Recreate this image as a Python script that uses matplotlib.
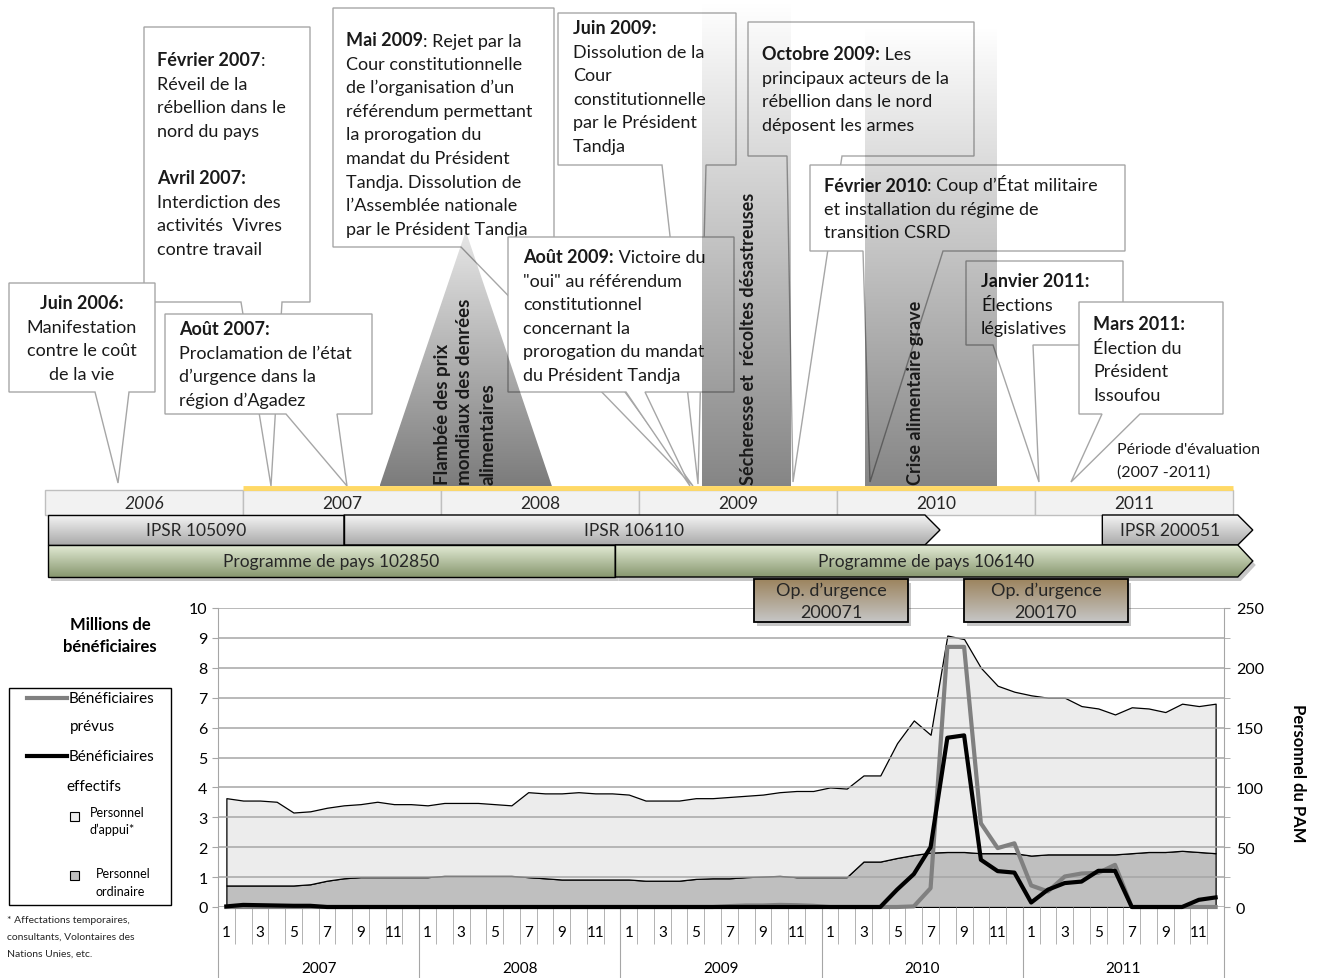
import numpy as np
import matplotlib
matplotlib.use("Agg")
import matplotlib.pyplot as plt
from matplotlib.patches import Polygon, Rectangle
from matplotlib.colors import to_rgba

plt.rcParams['font.family'] = ['Lato', 'DejaVu Sans']

W, H = 1320, 979

# ---- séries mensuelles, janv. 2007 - déc. 2011 ----
annees = ['2007', '2008', '2009', '2010', '2011']
mois_labels = ['1', '', '3', '', '5', '', '7', '', '9', '', '11', '']

# millions de bénéficiaires (axe de gauche)
benef_prevus = [
    0, 0, 0, 0, 0, 0, 0, 0, 0, 0, 0, 0,
    0, 0, 0, 0, 0, 0, 0, 0, 0, 0, 0, 0,
    0, 0, 0, 0, 0, 0, 0.03, 0.05, 0.05, 0.07, 0.06, 0.04,
    0, 0, 0, 0, 0, 0.02, 0.63, 8.7, 8.7, 2.8, 1.97, 2.13,
    0.72, 0.52, 1.02, 1.12, 1.14, 1.41, 0, 0, 0, 0, 0, 0]
benef_effectifs = [
    0.02, 0.07, 0.06, 0.05, 0.04, 0.04, 0, 0, 0, 0, 0, 0,
    0, 0, 0, 0, 0, 0, 0, 0, 0, 0, 0, 0,
    0, 0, 0, 0, 0, 0, 0, 0, 0, 0, 0, 0,
    0, 0, 0, 0, 0.58, 1.1, 2.0, 5.66, 5.74, 1.58, 1.2, 1.15,
    0.15, 0.58, 0.8, 0.85, 1.21, 1.21, 0, 0, 0, 0, 0.24, 0.32]

# personnel du PAM (axe de droite)
personnel_ordinaire = [
    18, 18, 18, 18, 18, 19, 22, 24, 25, 25, 25, 25,
    25, 26, 26, 26, 26, 26, 25, 24, 23, 23, 23, 23,
    23, 22, 22, 22, 23.5, 24, 24, 25, 25.5, 26, 25, 25,
    25, 25, 38, 38, 41, 43.5, 45.5, 46, 46, 45, 45, 45,
    43, 44, 44, 44, 44, 44, 45, 46, 46, 47, 46, 45]
personnel_appui = [
    73, 71, 71, 70, 61, 61, 61, 61, 61, 63, 61, 61,
    60, 61, 61, 61, 60, 59, 71, 71, 72, 73, 72, 72,
    71, 67, 67, 67, 67.5, 67, 68, 68, 68.5, 70, 72, 72,
    75, 74, 72, 72, 96, 112.5, 98.5, 181, 178, 155, 140, 135,
    134, 131, 131, 124, 122, 117, 122, 120, 117, 123, 122, 125]

# ---- frise chronologique ----
frise_annees = ['2006', '2007', '2008', '2009', '2010', '2011']
periode_eval = (2007.0, 2012.0)
ipsr = [('IPSR 105090', 2006.015, 2007.51, False),
        ('IPSR 106110', 2007.51, 2010.52, True),
        ('IPSR 200051', 2011.34, 2012.1, True)]
programmes = [('Programme de pays 102850', 2006.015, 2008.88, False),
              ('Programme de pays 106140', 2008.88, 2012.1, True)]
urgences = [('Op. d’urgence', '200071', 2009.58, 2010.36),
            ('Op. d’urgence', '200170', 2010.64, 2011.47)]
crises = [('Flambée des prix\nmondiaux des denrées\nalimentaires', 2007.69, 2008.56),
          ('Sécheresse et  récoltes désastreuses', 2009.32, 2009.77),
          ('Crise alimentaire grave', 2010.14, 2010.81)]

B_, N_ = True, False
evenements = [
    dict(box=(144, 28, 310, 303), tail=(241, 282, 271, 487), x=157, y=61, ha='left',
         lines=[[('Février 2007', B_), (':', N_)], [('Réveil de la', N_)], [('rébellion dans le', N_)],
                [('nord du pays', N_)], [], [('Avril 2007:', B_)], [('Interdiction des', N_)],
                [('activités  Vivres', N_)], [('contre travail', N_)]]),
    dict(box=(9, 284, 155, 393), tail=(95, 129, 118, 484), x=82, y=304, ha='center',
         lines=[[('Juin 2006:', B_)], [('Manifestation', N_)], [('contre le coût', N_)], [('de la vie', N_)]]),
    dict(box=(333, 9, 554, 248), tail=(461, 520, 693, 487), x=346, y=41, ha='left',
         lines=[[('Mai 2009', B_), (': Rejet par la', N_)], [('Cour constitutionnelle', N_)],
                [('de l’organisation d’un', N_)], [('référendum permettant', N_)],
                [('la prorogation du', N_)], [('mandat du Président', N_)],
                [('Tandja. Dissolution de', N_)], [('l’Assemblée nationale', N_)],
                [('par le Président Tandja', N_)]]),
    dict(box=(558, 14, 736, 166), tail=(662, 706, 698, 485), x=573, y=29, ha='left',
         lines=[[('Juin 2009:', B_)], [('Dissolution de la', N_)], [('Cour', N_)],
                [('constitutionnelle', N_)], [('par le Président', N_)], [('Tandja', N_)]]),
    dict(box=(165, 315, 372, 415), tail=(286, 337, 347, 487), x=179, y=330, ha='left',
         lines=[[('Août 2007:', B_)], [('Proclamation de l’état', N_)], [('d’urgence dans la', N_)],
                [('région d’Agadez', N_)]]),
    dict(box=(508, 238, 734, 393), tail=(626, 645, 690, 487), x=523, y=258, ha='left',
         lines=[[('Août 2009:', B_), (' Victoire du', N_)], [('"oui" au référendum', N_)],
                [('constitutionnel', N_)], [('concernant la', N_)], [('prorogation du mandat', N_)],
                [('du Président Tandja', N_)]]),
    dict(box=(748, 23, 974, 157), tail=(787, 842, 793, 483), x=762, y=55, ha='left',
         lines=[[('Octobre 2009:', B_), (' Les', N_)], [('principaux acteurs de la', N_)],
                [('rébellion dans le nord', N_)], [('déposent les armes', N_)]]),
    dict(box=(810, 166, 1125, 252), tail=(863, 943, 870, 483), x=824, y=186, ha='left',
         lines=[[('Février 2010', B_), (': Coup d’État militaire', N_)],
                [('et installation du régime de', N_)], [('transition CSRD', N_)]]),
    dict(box=(966, 262, 1123, 346), tail=(993, 1033, 1039, 483), x=981, y=282, ha='left',
         lines=[[('Janvier 2011:', B_)], [('Élections', N_)], [('législatives', N_)]]),
    dict(box=(1079, 303, 1223, 415), tail=(1102, 1140, 1071, 483), x=1093, y=325, ha='left',
         lines=[[('Mars 2011:', B_)], [('Élection du', N_)], [('Président', N_)], [('Issoufou', N_)]]),
]


def px(an):
    # position horizontale (pixels) d'une date sur la frise
    return 45 + (an - 2006) * 198


def gradient_poly(ax, verts, c_top, c_bot, zorder, edgecolor='none', lw=1.0):
    verts = np.asarray(verts, float)
    x0, x1 = verts[:, 0].min(), verts[:, 0].max()
    y0, y1 = verts[:, 1].min(), verts[:, 1].max()
    t = np.linspace(0, 1, 256)[:, None, None]
    img = np.array(to_rgba(c_top)) * (1 - t) + np.array(to_rgba(c_bot)) * t
    poly = Polygon(verts, closed=True, fc='none', ec=edgecolor, lw=lw, zorder=zorder + 0.01)
    ax.add_patch(poly)
    im = ax.imshow(img, extent=(x0, x1, y1, y0), origin='upper', aspect='auto',
                   interpolation='bilinear', zorder=zorder)
    im.set_clip_path(poly)
    return poly


def bar_verts(x0, x1, y0, y1, arrow):
    if arrow:
        return [(x0, y0), (x1 - 15, y0), (x1, (y0 + y1) / 2), (x1 - 15, y1), (x0, y1)]
    return [(x0, y0), (x1, y0), (x1, y1), (x0, y1)]


def shadow(ax, verts, zorder):
    v = [(a + 3, b + 4) for a, b in verts]
    ax.add_patch(Polygon(v, closed=True, fc=(0, 0, 0, 0.22), ec='none', zorder=zorder))


fig = plt.figure(figsize=(13.2, 9.79), dpi=100)

# ---------------- graphique du bas ----------------
L, R, T, B = 218, 1224, 609, 908
ax = fig.add_axes([L / W, 1 - B / H, (R - L) / W, (B - T) / H])
ax2 = ax.twinx()
x = np.arange(len(benef_prevus)) + 0.5

ax2.stackplot(x, personnel_ordinaire, personnel_appui, colors=['#bfbfbf', '#ececec'],
              edgecolor='black', linewidth=0.9)
ax2.set_ylim(0, 250)
ax.plot(x, benef_prevus, color='#808080', lw=3, clip_on=False, zorder=3)
ax.plot(x, benef_effectifs, color='black', lw=3, clip_on=False, zorder=4)
ax.set_xlim(0, 60)
ax.set_ylim(0, 10)
ax.set_zorder(ax2.get_zorder() + 1)
ax.patch.set_visible(False)

grid_c = '#a6a6a6'
ax.set_yticks(range(11))
ax.grid(axis='y', color=grid_c, lw=1.1)
ax.tick_params(axis='y', length=4.5, color=grid_c, labelsize=11.5, pad=3)
ax2.set_yticks(range(0, 251, 50))
ax2.set_yticks(range(25, 251, 50), minor=True)
ax2.tick_params(axis='y', which='both', length=4.5, color=grid_c, labelsize=11.5, pad=4)
for s in ['top', 'bottom', 'right']:
    ax.spines[s].set_visible(False)
for s in ['top', 'bottom', 'left']:
    ax2.spines[s].set_visible(False)
ax.spines['left'].set_color(grid_c)
ax2.spines['right'].set_color(grid_c)

ax.set_xticks(range(0, 61, 12))
ax.set_xticks([m for m in range(61) if m % 12], minor=True)
ax.tick_params(axis='x', which='major', length=51, color=grid_c, labelbottom=False)
ax.tick_params(axis='x', which='minor', length=26.6, color=grid_c)
tr = ax.get_xaxis_transform()
for i, an in enumerate(annees):
    for m, lab in enumerate(mois_labels):
        if lab:
            ax.text(i * 12 + m + 0.5, -0.083, lab, transform=tr, ha='center', va='center', fontsize=11)
    ax.text(i * 12 + 6, -0.203, an, transform=tr, ha='center', va='center', fontsize=11)

# ---------------- calque de la frise (coordonnées en pixels) ----------------
top = fig.add_axes([0, 0, 1, 1])
top.set_zorder(ax.get_zorder() + 2)
top.patch.set_visible(False)
top.axis('off')

FS = 13
DY = 23.6
for k, ev in enumerate(evenements):
    z = 2 + k * 0.02
    x0, y0, x1, y1 = ev['box']
    b1, b2, axp, ayp = ev['tail']
    verts = [(x0, y0), (x1, y0), (x1, y1), (b2, y1), (axp, ayp), (b1, y1), (x0, y1)]
    top.add_patch(Polygon(verts, closed=True, fc='white', ec='#a6a6a6', lw=1.0, zorder=z))
    for j, segs in enumerate(ev['lines']):
        if not segs:
            continue
        yy = ev['y'] + j * DY
        if ev['ha'] == 'center':
            txt = ''.join(s for s, _ in segs)
            top.text(ev['x'], yy, txt, ha='center', va='center', fontsize=FS,
                     fontweight='bold' if segs[0][1] else 'normal', color='#1a1a1a', zorder=z + 0.01)
            continue
        prev = top.text(ev['x'], yy, segs[0][0], ha='left', va='center', fontsize=FS,
                        fontweight='bold' if segs[0][1] else 'normal', color='#1a1a1a', zorder=z + 0.01)
        for s, bold in segs[1:]:
            prev = top.annotate(s, xy=(1, 0), xycoords=prev, ha='left', va='bottom', fontsize=FS,
                                fontweight='bold' if bold else 'normal', color='#1a1a1a',
                                zorder=z + 0.01)

# zones grisées des crises
lab_x = [465, 748, 916]
lab_fs = [13.5, 13, 13]
for (lab, d0, d1), lx, lfs in zip(crises, lab_x, lab_fs):
    if '\n' in lab:
        verts = [(px(d0), 487), ((px(d0) + px(d1)) / 2, 232), (px(d1), 487)]
        gradient_poly(top, verts, (0, 0, 0, 0.10), (0, 0, 0, 0.52), zorder=4)
    else:
        ytop = 0 if d0 < 2010 else 25
        verts = [(px(d0), ytop), (px(d1), ytop), (px(d1), 487), (px(d0), 487)]
        gradient_poly(top, verts, (0, 0, 0, 0.0), (0, 0, 0, 0.48), zorder=4)
    top.text(lx, 485, lab, rotation=90, ha='center', va='bottom', multialignment='left',
             fontsize=lfs, fontweight='bold', color='#1a1a1a', zorder=5, linespacing=1.4)

# années de la frise
for i, an in enumerate(frise_annees):
    xa = px(2006 + i)
    top.add_patch(Rectangle((xa, 491), 198, 25, fc='#f2f2f2', ec='#bfbfbf', lw=1, zorder=6))
    top.text(xa + 99, 504, an, ha='center', va='center', fontsize=12.5, color='#262626',
             style='italic' if i == 0 else 'normal', zorder=7)
top.plot([px(periode_eval[0]), px(periode_eval[1])], [489, 489], color='#ffd966', lw=3.5,
         solid_capstyle='butt', zorder=6.5)
top.text(1117, 450, "Période d'évaluation", ha='left', va='center', fontsize=11.5,
         color='#1a1a1a', zorder=7)
top.text(1117, 473, '(2007 -2011)', ha='left', va='center', fontsize=11.5, color='#1a1a1a', zorder=7)

for lab, d0, d1, arr in ipsr:
    v = bar_verts(px(d0), px(d1), 516, 546, arr)
    gradient_poly(top, v, '#f4f4f4', '#a9a9a9', zorder=6, edgecolor='black')
    xc = (px(d0) + px(d1) - (15 if arr else 0)) / 2
    top.text(xc, 531, lab, ha='center', va='center', fontsize=12.5, color='#262626', zorder=7)

for lab, d0, d1, arr in programmes:
    v = bar_verts(px(d0), px(d1), 546, 578, arr)
    shadow(top, v, 5.9)
    gradient_poly(top, v, '#e3ebd5', '#87976f', zorder=6.2, edgecolor='black')
    xc = (px(d0) + px(d1) - (15 if arr else 0)) / 2
    top.text(xc, 562, lab, ha='center', va='center', fontsize=12.5, color='#262626', zorder=7)

for l1, l2, d0, d1 in urgences:
    v = bar_verts(px(d0), px(d1), 580, 623, False)
    shadow(top, v, 5.9)
    gradient_poly(top, v, '#9c845e', '#c6c6c6', zorder=6.2, edgecolor='black', lw=1.3)
    xc = (px(d0) + px(d1)) / 2
    top.text(xc, 591, l1, ha='center', va='center', fontsize=13, color='#262626', zorder=7)
    top.text(xc, 613, l2, ha='center', va='center', fontsize=13, color='#262626', zorder=7)

# titres des axes
top.text(110, 625, 'Millions de', ha='center', va='center', fontsize=12, fontweight='bold')
top.text(110, 647, 'bénéficiaires', ha='center', va='center', fontsize=12, fontweight='bold')
top.text(1298, 773, 'Personnel du PAM', rotation=270, ha='center', va='center', fontsize=12,
         fontweight='bold')

# légende
top.add_patch(Rectangle((9, 689), 162, 217, fc='white', ec='black', lw=1, zorder=6))
top.plot([27, 67], [699, 699], color='#808080', lw=3, zorder=7)
top.text(69, 699, 'Bénéficiaires', ha='left', va='center', fontsize=11, zorder=7)
top.text(70, 727, 'prévus', ha='left', va='center', fontsize=11, zorder=7)
top.plot([27, 67], [757, 757], color='black', lw=3, zorder=7)
top.text(69, 757, 'Bénéficiaires', ha='left', va='center', fontsize=11, zorder=7)
top.text(66, 787, 'effectifs', ha='left', va='center', fontsize=11, zorder=7)
top.add_patch(Rectangle((70, 813), 9, 9, fc='#ececec', ec='black', lw=0.8, zorder=7))
top.text(90, 813, 'Personnel', ha='left', va='center', fontsize=9, zorder=7)
top.text(90, 830, 'd’appui*', ha='left', va='center', fontsize=9, zorder=7)
top.add_patch(Rectangle((70, 872), 9, 9, fc='#bfbfbf', ec='black', lw=0.8, zorder=7))
top.text(96, 874, 'Personnel', ha='left', va='center', fontsize=9, zorder=7)
top.text(96, 892, 'ordinaire', ha='left', va='center', fontsize=9, zorder=7)

for j, s in enumerate(['* Affectations temporaires,', 'consultants, Volontaires des',
                       'Nations Unies, etc.']):
    top.text(7, 921 + j * 16.5, s, ha='left', va='center', fontsize=7.5, color='#262626')

top.set_xlim(0, W)
top.set_ylim(H, 0)

fig.savefig('out.png', dpi=100, facecolor='white')
